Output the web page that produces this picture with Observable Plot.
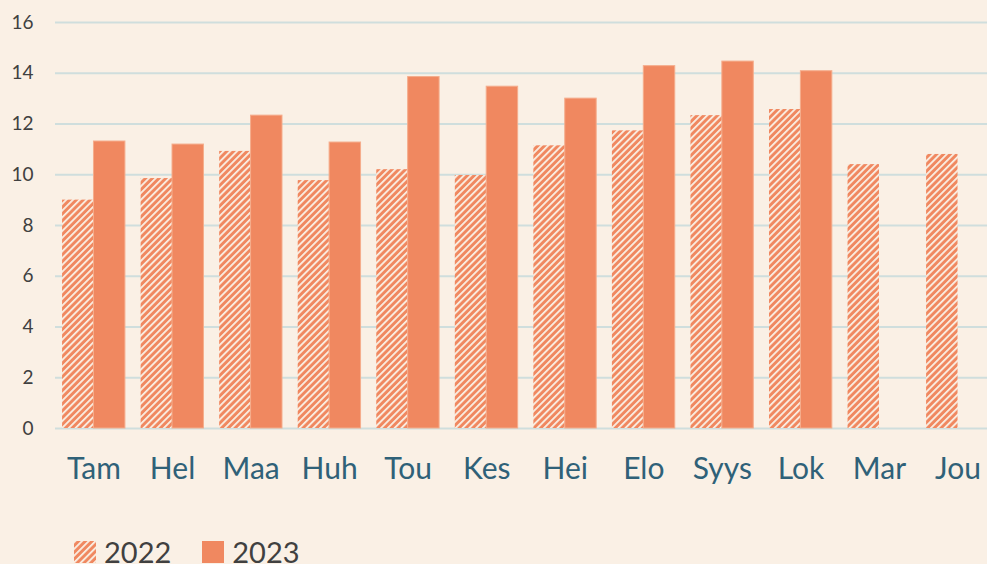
<!DOCTYPE html>
<html>
<head>
<meta charset="utf-8">
<script src="https://cdn.jsdelivr.net/npm/d3@7"></script>
<script src="https://cdn.jsdelivr.net/npm/@observablehq/plot@0.6"></script>
<style>
  html, body { margin: 0; padding: 0; background: #FAF0E5; overflow: hidden; }
  #chart { width: 987px; height: 500px; }
  .legend { display: flex; align-items: flex-start; height: 64px; font-family: Lato, sans-serif; font-size: 29px; line-height: 1; color: #404040; margin-top: 37px; }
  .legend .item { display: flex; align-items: flex-start; }
  .legend .sw { width: 22px; height: 22px; display: block; margin-top: 4px; margin-right: 8px; }
</style>
</head>
<body>
<div id="chart"></div>
<script>
const months = ["Tam", "Hel", "Maa", "Huh", "Tou", "Kes", "Hei", "Elo", "Syys", "Lok", "Mar", "Jou"];
const values2022 = [9.0, 9.85, 10.92, 9.77, 10.2, 9.97, 11.14, 11.73, 12.33, 12.57, 10.4, 10.8];
const values2023 = [11.31, 11.19, 12.33, 11.27, 13.85, 13.47, 13.0, 14.28, 14.46, 14.08, null, null];
const yTicks = [0, 2, 4, 6, 8, 10, 12, 14, 16];
const years = ["2022", "2023"];

const orange = "#F08860";
const cream = "#FAF0E5";

const data2022 = months.map((m, i) => ({ month: m, value: values2022[i] }));
const data2023 = months.map((m, i) => ({ month: m, value: values2023[i] })).filter(d => d.value != null);

const plot = Plot.plot({
  width: 987,
  height: 500,
  marginTop: 22,
  marginBottom: 72,
  marginLeft: 55,
  marginRight: 0,
  style: { background: "transparent", fontFamily: "Lato, sans-serif" },
  x: { type: "band", domain: months, range: [55, 996], round: false, paddingInner: 0.2, paddingOuter: 0.09, label: null },
  y: { domain: [0, 16], label: null },
  marks: [
    Plot.gridY(yTicks, { stroke: "#CFDEDD", strokeOpacity: 1, strokeWidth: 2 }),
    Plot.barY(data2022, { x: "month", y: "value", fill: "url(#stripes2022)", insetRight: 31.4 }),
    Plot.barY(data2023, { x: "month", y: "value", fill: orange, stroke: "#F5AD8C", strokeWidth: 1, insetLeft: 31.4 }),
    Plot.axisY({ ticks: yTicks, tickSize: 0, tickPadding: 22, fontSize: 19, color: "#404040", label: null }),
    Plot.axisX({ tickSize: 0, tickPadding: 29, fontSize: 30, color: "#2F6178", label: null })
  ]
});

const defs = document.createElementNS("http://www.w3.org/2000/svg", "defs");
defs.innerHTML = `
  <pattern id="stripes2022" patternUnits="userSpaceOnUse" width="4.8" height="4.8" patternTransform="rotate(45)">
    <rect width="4.8" height="4.8" fill="${orange}"></rect>
    <rect width="1.8" height="4.8" fill="${cream}"></rect>
  </pattern>`;
plot.insertBefore(defs, plot.firstChild);
document.getElementById("chart").appendChild(plot);

// Legend below the chart
const legend = document.createElement("div");
legend.className = "legend";
years.forEach((y, i) => {
  const item = document.createElement("span");
  item.className = "item";
  item.style.marginLeft = i === 0 ? "74px" : "31px";
  const sw = document.createElementNS("http://www.w3.org/2000/svg", "svg");
  sw.setAttribute("class", "sw");
  sw.setAttribute("width", 22);
  sw.setAttribute("height", 22);
  sw.innerHTML = `<rect width="22" height="22" fill="${i === 0 ? "url(#stripes2022)" : orange}"></rect>`;
  const t = document.createElement("span");
  t.textContent = y;
  item.appendChild(sw);
  item.appendChild(t);
  legend.appendChild(item);
});
document.body.appendChild(legend);
</script>
</body>
</html>
